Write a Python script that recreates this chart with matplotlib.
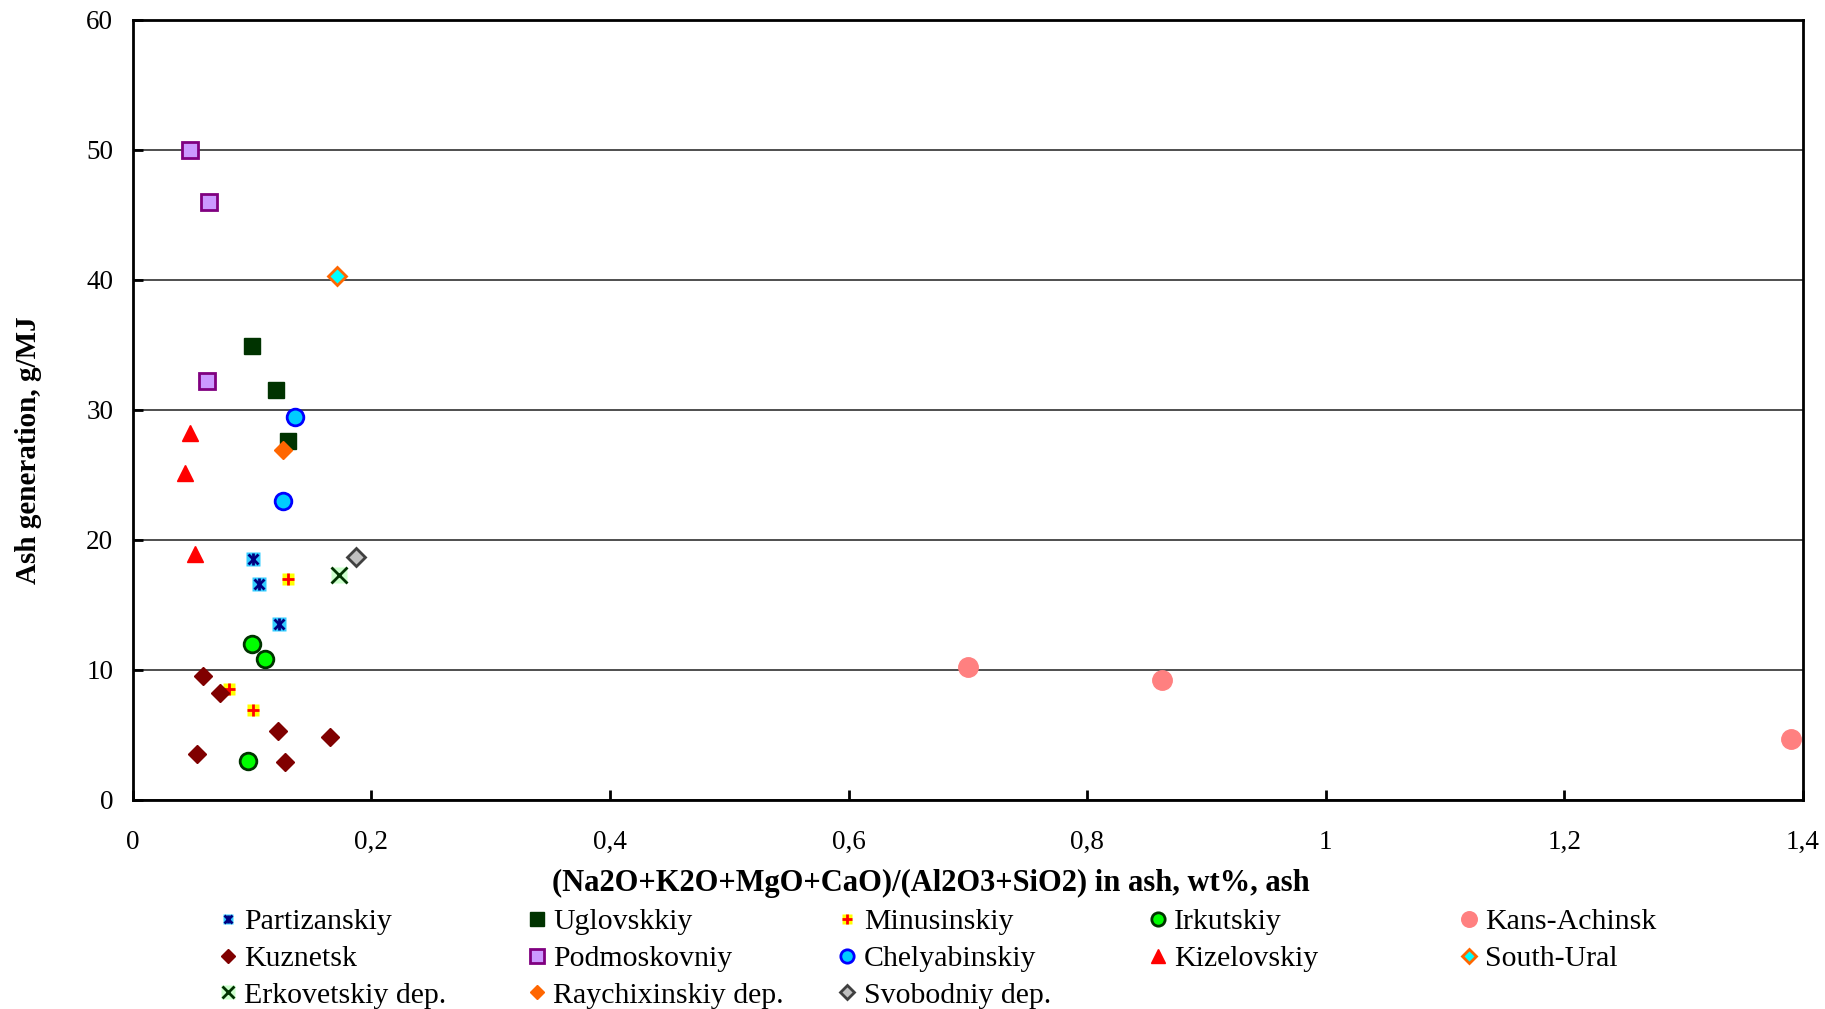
import matplotlib
matplotlib.use("Agg")
import matplotlib.pyplot as plt
from matplotlib.ticker import FuncFormatter

plt.rcParams["font.family"] = ["Liberation Serif", "DejaVu Serif"]

# ---------------------------------------------------------------------------
# data
# ---------------------------------------------------------------------------
partizanskiy_x = [0.101, 0.106, 0.123]
partizanskiy_y = [18.5, 16.6, 13.5]

uglovskkiy_x = [0.100, 0.120, 0.130]
uglovskkiy_y = [34.9, 31.5, 27.6]

minusinskiy_x = [0.130, 0.081, 0.101]
minusinskiy_y = [17.0, 8.5, 6.9]

irkutskiy_x = [0.100, 0.111, 0.097]
irkutskiy_y = [12.0, 10.8, 3.0]

kans_x = [0.700, 0.863, 1.390]
kans_y = [10.2, 9.2, 4.7]

kuznetsk_x = [0.059, 0.073, 0.122, 0.165, 0.054, 0.128]
kuznetsk_y = [9.5, 8.2, 5.3, 4.8, 3.5, 2.9]

podmoskovniy_x = [0.048, 0.064, 0.062]
podmoskovniy_y = [50.0, 46.0, 32.2]

chelyabinskiy_x = [0.136, 0.126]
chelyabinskiy_y = [29.4, 23.0]

kizelovskiy_x = [0.048, 0.044, 0.052]
kizelovskiy_y = [28.2, 25.1, 18.9]

south_ural_x = [0.171]
south_ural_y = [40.3]

erkovetskiy_x = [0.173]
erkovetskiy_y = [17.25]

raychixinskiy_x = [0.126]
raychixinskiy_y = [26.9]

svobodniy_x = [0.187]
svobodniy_y = [18.7]

# ---------------------------------------------------------------------------
W, H = 1825, 1009
fig = plt.figure(figsize=(W / 100, H / 100), dpi=100)
ax = fig.add_axes([132.7 / W, 1 - 799.6 / H, (1803 - 132.7) / W, (799.6 - 19.8) / H])


def pts(x, y, **kw):
    """plot a point series and return its handle (no lines)."""
    (h,) = ax.plot(x, y, linestyle="none", **kw)
    return h


h_part = (
    pts(partizanskiy_x, partizanskiy_y, marker="s", ms=9.5, mfc="#33CCFF", mec="none"),
    pts(partizanskiy_x, partizanskiy_y, marker="x", ms=7, mec="#000080", mew=2),
    pts(partizanskiy_x, partizanskiy_y, marker="|", ms=8, mec="#000080", mew=2),
)
h_ugl = pts(uglovskkiy_x, uglovskkiy_y, marker="s", ms=12, mfc="#003300", mec="#003300")
h_minus = (
    pts(minusinskiy_x, minusinskiy_y, marker="s", ms=9, mfc="#FFFF00", mec="none"),
    pts(minusinskiy_x, minusinskiy_y, marker="+", ms=9, mec="#FF0000", mew=2),
)
h_irk = pts(irkutskiy_x, irkutskiy_y, marker="o", ms=12, mfc="#00FF00", mec="#003300", mew=2)
h_kans = pts(kans_x, kans_y, marker="o", ms=14, mfc="#FF8080", mec="#FF8080")
h_kuz = pts(kuznetsk_x, kuznetsk_y, marker="D", ms=9, mfc="#800000", mec="#800000")
h_podm = pts(podmoskovniy_x, podmoskovniy_y, marker="s", ms=12, mfc="#CC99FF", mec="#800080", mew=2)
h_chel = pts(chelyabinskiy_x, chelyabinskiy_y, marker="o", ms=12, mfc="#00CCFF", mec="#0000FF", mew=2)
h_kiz = pts(kizelovskiy_x, kizelovskiy_y, marker="^", ms=12, mfc="#FF0000", mec="#FF0000")
h_sural = pts(south_ural_x, south_ural_y, marker="D", ms=9, mfc="#00FFFF", mec="#FF6600", mew=2)
h_erk = (
    pts(erkovetskiy_x, erkovetskiy_y, marker="s", ms=12, mfc="#CCFFCC", mec="none"),
    pts(erkovetskiy_x, erkovetskiy_y, marker="x", ms=11, mec="#003300", mew=2),
)
h_ray = pts(raychixinskiy_x, raychixinskiy_y, marker="D", ms=9, mfc="#FF6600", mec="#FF6600")
h_svob = pts(svobodniy_x, svobodniy_y, marker="D", ms=9, mfc="#C0C0C0", mec="#404040", mew=2)

# axes ------------------------------------------------------------------------
ax.set_xlim(0, 1.4)
ax.set_ylim(0, 60)
ax.set_xticks([0, 0.2, 0.4, 0.6, 0.8, 1.0, 1.2, 1.4])
ax.set_yticks(range(0, 61, 10))
ax.xaxis.set_major_formatter(FuncFormatter(lambda v, _: f"{v:g}".replace(".", ",")))
ax.tick_params(direction="in", length=7, width=2, labelsize=19.5)
ax.tick_params(axis="x", pad=22)
ax.tick_params(axis="y", pad=14)
for s in ax.spines.values():
    s.set_linewidth(2)
ax.yaxis.grid(True, color="#303030", linewidth=1.2)
ax.set_axisbelow(True)

ax.set_xlabel("(Na2O+K2O+MgO+CaO)/(Al2O3+SiO2) in ash, wt%, ash",
              fontsize=22, fontweight="bold")
ax.xaxis.set_label_coords(0.478, -0.089)
ax.set_ylabel("Ash generation, g/MJ", fontsize=21, fontweight="bold")
ax.yaxis.set_label_coords(-0.0543, 0.448)

# legend: five columns placed where the reference has them ----------------------
columns = [
    ([h_part, h_kuz, h_erk], ["Partizanskiy", "Kuznetsk", "Erkovetskiy dep."]),
    ([h_ugl, h_podm, h_ray], ["Uglovskkiy", "Podmoskovniy", "Raychixinskiy dep."]),
    ([h_minus, h_chel, h_svob], ["Minusinskiy", "Chelyabinskiy", "Svobodniy dep."]),
    ([h_irk, h_kiz], ["Irkutskiy", "Kizelovskiy"]),
    ([h_kans, h_sural], ["Kans-Achinsk", "South-Ural"]),
]
col_x = [228, 536.6, 847.3, 1158, 1469]
for (handles, labels), cx in zip(columns, col_x):
    fig.legend(handles, labels, loc="upper left",
               bbox_to_anchor=((cx - 15) / W, 1 - 908.5 / H),
               frameon=False, fontsize=21.5, handlelength=1.0, handletextpad=0.05,
               borderpad=0, borderaxespad=0, labelspacing=0.33, markerscale=0.8)

fig.savefig("out.png", dpi=100)
